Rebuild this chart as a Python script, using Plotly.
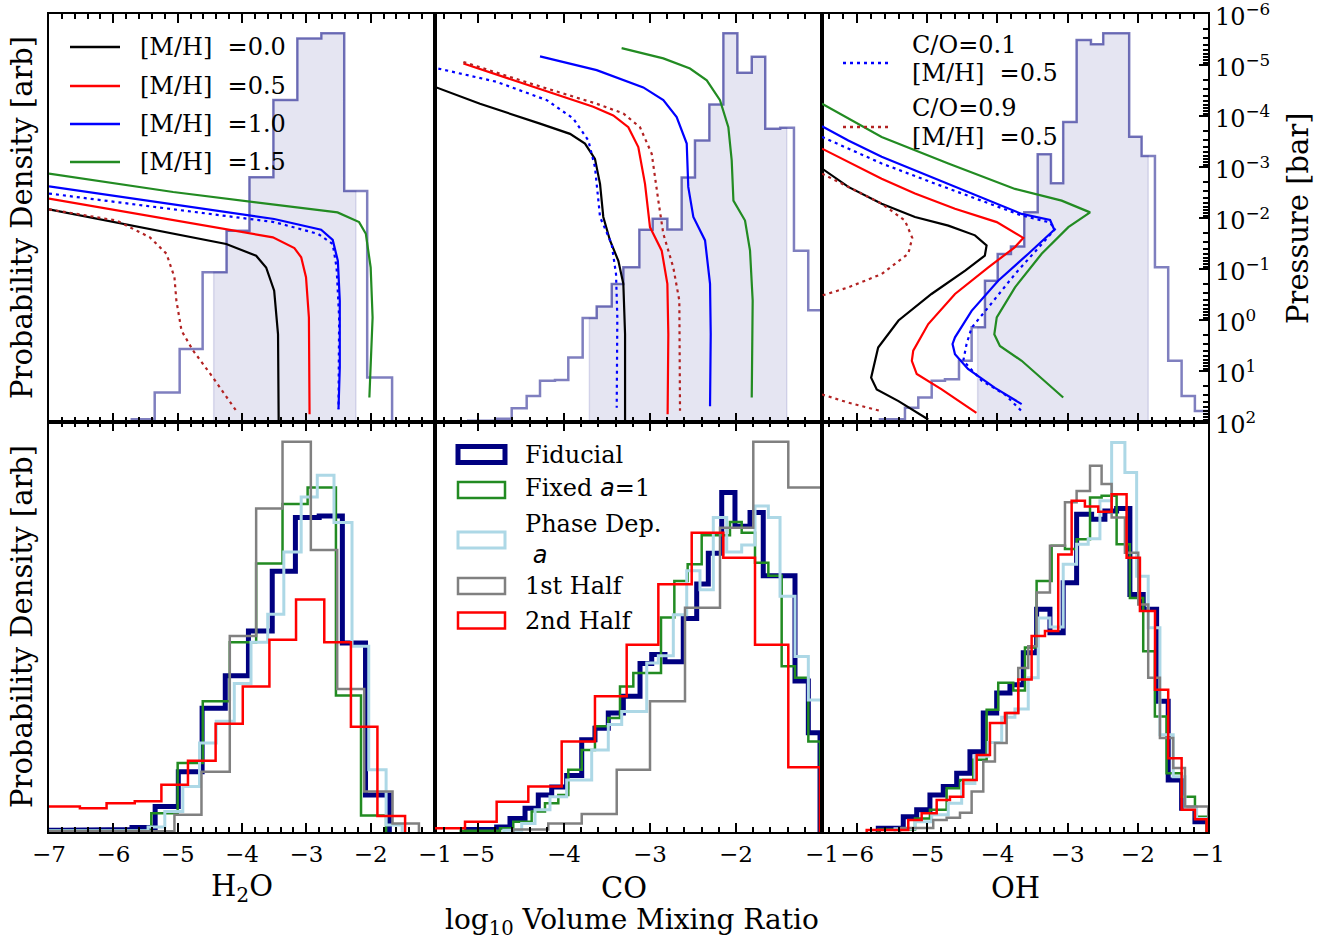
import plotly.graph_objects as go

FONT = "DejaVu Serif"
W, H = 1326, 941
ML, MR, MT, MB = 49, 118, 14, 109

# ---------------- axis data ----------------
SPECIES_LABELS = ["H<sub>2</sub>O", "CO", "OH"]
X_RANGES = [[-7, -1], [-5.5, -1], [-6.5, -1]]
X_TICKS = [[-7, -6, -5, -4, -3, -2, -1], [-5, -4, -3, -2, -1], [-6, -5, -4, -3, -2, -1]]
PRESSURE_EXP = [-6, -5, -4, -3, -2, -1, 0, 1, 2]

# ---------------- top row: retrieved posterior histograms ----------------
H2O_POST_EDGES = [-5.713, -5.357, -4.969, -4.612, -4.240, -3.884, -3.512, -3.140, -2.767, -2.411, -2.054, -1.667]
H2O_POST_H = [0.007, 0.072, 0.179, 0.367, 0.469, 0.600, 0.789, 0.940, 0.953, 0.566, 0.109]
H2O_POST_BOUNDS = [-4.44, -2.23]

CO_POST_EDGES = [-5.113, -4.783, -4.608, -4.434, -4.279, -4.105, -3.95, -3.783, -3.62, -3.445, -3.31, -3.124,
                 -2.969, -2.798, -2.632, -2.477, -2.31, -2.147, -1.984, -1.817, -1.66, -1.486, -1.326, -1.16, -0.83]
CO_POST_H = [0.003, 0.008, 0.034, 0.064, 0.101, 0.103, 0.158, 0.255, 0.283, 0.338, 0.379, 0.471, 0.498, 0.472,
             0.599, 0.690, 0.778, 0.953, 0.856, 0.895, 0.719, 0.721, 0.420, 0.274]
CO_POST_BOUNDS = [-3.705, -1.41]

OH_POST_EDGES = [-5.674, -5.318, -5.128, -4.937, -4.748, -4.548, -4.368, -4.178, -3.997, -3.808, -3.618, -3.427,
                 -3.238, -3.063, -2.872, -2.668, -2.493, -2.302, -2.123, -1.946, -1.756, -1.567, -1.376, -1.187, -0.81]
OH_POST_H = [0.007, 0.035, 0.060, 0.101, 0.105, 0.150, 0.232, 0.346, 0.412, 0.430, 0.514, 0.656, 0.585, 0.735,
             0.936, 0.926, 0.953, 0.953, 0.699, 0.652, 0.379, 0.150, 0.064, 0.027]
OH_POST_BOUNDS = [-4.282, -1.852]

# ---------------- top row: equilibrium chemistry profiles (log10 VMR, log10 P[bar]) ----------------
# H2O
H2O_MH00_X = [-7.0, -4.245, -3.78, -3.625, -3.50, -3.44, -3.43]
H2O_MH00_LP = [-2.17, -1.49, -1.26, -1.03, -0.575, 0.28, 1.98]
H2O_MH05_X = [-7.0, -3.52, -3.186, -3.08, -3.005, -2.96, -2.95]
H2O_MH05_LP = [-2.38, -1.62, -1.41, -1.23, -0.84, -0.05, 1.85]
H2O_MH10_X = [-7.0, -3.50, -2.77, -2.59, -2.51, -2.48, -2.48, -2.50]
H2O_MH10_LP = [-2.62, -1.98, -1.77, -1.57, -1.16, -0.38, 0.93, 1.75]
H2O_MH15_X = [-7.0, -5.07, -2.515, -2.18, -2.075, -2.00, -1.97, -2.02]
H2O_MH15_LP = [-2.87, -2.51, -2.11, -1.92, -1.69, -1.03, -0.05, 1.52]
H2O_CO01_X = [-7.0, -3.50, -2.82, -2.59, -2.53, -2.49, -2.50]
H2O_CO01_LP = [-2.48, -1.92, -1.69, -1.49, -1.03, -0.05, 1.75]
H2O_CO09_X = [-7.0, -5.95, -5.43, -5.175, -5.05, -5.02, -4.94, -4.76, -4.45, -4.09]
H2O_CO09_LP = [-2.17, -1.95, -1.62, -1.30, -0.84, -0.38, 0.21, 0.60, 1.13, 1.78]
# CO
CO_MH00_X = [-5.5, -4.977, -4.279, -3.93, -3.756, -3.64, -3.581, -3.543, -3.465, -3.368, -3.31, -3.29, -3.29]
CO_MH00_LP = [-4.57, -4.24, -3.85, -3.65, -3.46, -3.16, -2.67, -2.02, -1.56, -1.16, -0.71, 0.28, 1.98]
CO_MH05_X = [-5.17, -4.395, -3.66, -3.427, -3.252, -3.136, -3.058, -3.0, -2.864, -2.798, -2.787, -2.795]
CO_MH05_LP = [-5.03, -4.60, -4.18, -4.01, -3.78, -3.39, -2.67, -1.82, -1.36, -0.71, 0.28, 1.85]
CO_MH10_X = [-4.279, -3.62, -3.078, -2.845, -2.69, -2.573, -2.555, -2.496, -2.36, -2.302, -2.294, -2.302]
CO_MH10_LP = [-5.17, -4.90, -4.56, -4.31, -3.98, -3.46, -2.61, -2.02, -1.56, -0.71, 0.28, 1.69]
CO_MH15_X = [-3.33, -2.845, -2.535, -2.34, -2.186, -2.089, -2.05, -2.03, -1.895, -1.837, -1.806, -1.817]
CO_MH15_LP = [-5.33, -5.13, -4.93, -4.70, -4.31, -3.78, -3.13, -2.34, -1.95, -1.36, -0.38, 1.52]
CO_CO01_X = [-5.461, -4.783, -4.20, -3.892, -3.717, -3.64, -3.581, -3.446, -3.395, -3.38, -3.387]
CO_CO01_LP = [-4.93, -4.67, -4.31, -3.95, -3.52, -3.00, -2.02, -1.49, -0.90, -0.05, 1.72]
CO_CO09_X = [-5.17, -4.395, -3.62, -3.31, -3.116, -2.98, -2.903, -2.845, -2.729, -2.659, -2.651]
CO_CO09_LP = [-5.06, -4.64, -4.24, -4.05, -3.78, -3.26, -2.34, -1.69, -1.03, -0.38, 1.78]
# OH
OH_MH00_X = [-6.5, -6.125, -5.65, -5.175, -4.70, -4.32, -4.155, -4.18, -4.46, -4.94, -5.41, -5.70, -5.80, -5.72, -5.41, -4.986]
OH_MH00_LP = [-2.97, -2.61, -2.28, -2.02, -1.85, -1.66, -1.46, -1.26, -0.97, -0.51, 0.01, 0.54, 1.13, 1.36, 1.59, 1.95]
OH_MH05_X = [-6.5, -6.125, -5.65, -5.175, -4.605, -4.01, -3.798, -3.632, -3.75, -4.13, -4.605, -4.986, -5.20, -5.22, -5.15, -4.795, -4.30]
OH_MH05_LP = [-3.36, -3.10, -2.77, -2.48, -2.18, -1.92, -1.755, -1.61, -1.43, -1.03, -0.51, 0.08, 0.60, 0.80, 1.06, 1.36, 1.82]
OH_MH10_X = [-6.5, -6.125, -5.65, -4.94, -4.225, -3.655, -3.25, -3.19, -3.56, -3.99, -4.368, -4.605, -4.64, -4.605, -4.42, -4.036, -3.655]
OH_MH10_LP = [-3.80, -3.52, -3.20, -2.80, -2.41, -2.08, -1.96, -1.77, -1.30, -0.77, -0.18, 0.34, 0.47, 0.67, 0.96, 1.33, 1.65]
OH_MH15_X = [-6.5, -5.65, -4.70, -3.75, -3.085, -2.68, -2.99, -3.37, -3.75, -4.01, -4.045, -3.965, -3.655, -3.063]
OH_MH15_LP = [-4.24, -3.59, -3.07, -2.57, -2.34, -2.11, -1.82, -1.30, -0.64, -0.05, 0.28, 0.51, 0.80, 1.52]
OH_CO01_X = [-6.5, -6.125, -5.65, -4.94, -4.225, -3.655, -3.275, -3.17, -3.323, -3.75, -4.13, -4.368, -4.44, -4.487, -4.225, -3.893, -3.632]
OH_CO01_LP = [-3.59, -3.36, -3.07, -2.70, -2.34, -2.05, -1.92, -1.80, -1.56, -0.90, -0.25, 0.15, 0.47, 0.80, 1.19, 1.46, 1.82]
OH_CO09_X = [-6.5, -6.125, -5.65, -5.318, -5.214, -5.27, -5.65, -6.125, -6.5, None, -6.5, -6.125, -5.674]
OH_CO09_LP = [-2.87, -2.61, -2.28, -1.95, -1.61, -1.30, -0.90, -0.64, -0.48, None, 1.46, 1.62, 1.78]

PROFILE_LABELS = ["[M/H]\u00a0\u00a0=0.0", "[M/H]\u00a0\u00a0=0.5", "[M/H]\u00a0\u00a0=1.0", "[M/H]\u00a0\u00a0=1.5"]
PROFILE_COLORS = ["black", "#ff0000", "#0000ff", "#228b22"]
CO_LABELS = [["C/O=0.1", "[M/H]\u00a0\u00a0=0.5"], ["C/O=0.9", "[M/H]\u00a0\u00a0=0.5"]]
CO_COLORS = ["#0000ff", "#b22222"]

# ---------------- bottom row: posterior comparisons ----------------
ITALIC_A = "<span style=\"font-family:'DejaVu Sans'\"><i>a</i></span>"
RUN_LABELS = ["Fiducial", "Fixed " + ITALIC_A + "=1", "Phase Dep.<br>\u00a0" + ITALIC_A, "1st Half", "2nd Half"]
RUN_COLORS = ["#000080", "#228b22", "#add8e6", "#808080", "#ff0000"]
RUN_WIDTHS = [5, 2.5, 3, 2.5, 2.5]

# H2O
FID_H2O_EDGES = [-7.17, -6.80, -6.44, -6.08, -5.71, -5.35, -4.99, -4.62, -4.26, -3.90, -3.53, -3.17, -2.80, -2.44, -2.08, -1.71]
FID_H2O_H = [0.004, 0.004, 0.004, 0.006, 0.011, 0.062, 0.147, 0.302, 0.381, 0.490, 0.636, 0.767, 0.771, 0.461, 0.090]
FIX_H2O_EDGES = [-7.2, -5.41, -5.00, -4.61, -4.19, -3.78, -3.37, -2.98, -2.54, -2.15, -1.76]
FIX_H2O_H = [0.003, 0.046, 0.168, 0.319, 0.463, 0.655, 0.800, 0.840, 0.333, 0.040]
PHA_H2O_EDGES = [-7.2, -5.46, -5.20, -4.92, -4.66, -4.40, -4.12, -3.86, -3.60, -3.35, -3.08, -2.83, -2.57, -2.29, -2.03, -1.76, -1.51]
PHA_H2O_H = [0.003, 0.012, 0.050, 0.111, 0.217, 0.270, 0.362, 0.463, 0.531, 0.683, 0.817, 0.870, 0.755, 0.453, 0.152, 0.017]
FIRST_H2O_EDGES = [-7.2, -5.05, -4.63, -4.19, -3.78, -3.37, -2.93, -2.52, -2.10, -1.66, -1.25]
FIRST_H2O_H = [0.002, 0.042, 0.147, 0.478, 0.789, 0.952, 0.688, 0.349, 0.099, 0.021]
SECOND_H2O_EDGES = [-7.35, -6.52, -6.105, -5.667, -5.253, -4.84, -4.41, -3.988, -3.574, -3.16, -2.721, -2.307, -1.895, -1.465]
SECOND_H2O_H = [0.062, 0.058, 0.070, 0.075, 0.115, 0.174, 0.264, 0.355, 0.469, 0.567, 0.463, 0.257, 0.039]
# CO
FID_CO_EDGES = [-5.131, -4.783, -4.628, -4.453, -4.299, -4.143, -3.969, -3.794, -3.640, -3.485, -3.310, -3.116, -2.980,
                -2.826, -2.613, -2.457, -2.322, -2.166, -2.012, -1.837, -1.683, -1.508, -1.314, -1.159, -1.023]
FID_CO_H = [0.006, 0.012, 0.033, 0.058, 0.090, 0.110, 0.138, 0.225, 0.253, 0.290, 0.331, 0.411, 0.433, 0.415, 0.521,
            0.605, 0.680, 0.828, 0.746, 0.779, 0.625, 0.625, 0.368, 0.242]
FIX_CO_EDGES = [-5.2, -4.744, -4.590, -4.376, -4.221, -4.066, -3.950, -3.794, -3.640, -3.485, -3.349, -3.194, -2.872,
                -2.717, -2.562, -2.399, -2.070, -1.934, -1.779, -1.624, -1.469, -1.314, -1.159, -1.023]
FIX_CO_H = [0.003, 0.009, 0.025, 0.050, 0.070, 0.090, 0.152, 0.200, 0.258, 0.278, 0.355, 0.388, 0.523, 0.612, 0.653,
            0.724, 0.756, 0.730, 0.657, 0.625, 0.404, 0.376, 0.221]
PHA_CO_EDGES = [-4.70, -4.492, -4.337, -4.163, -3.969, -3.678, -3.485, -3.329, -3.038, -2.903, -2.729, -2.573, -2.419,
                -2.264, -2.108, -1.934, -1.779, -1.624, -1.488, -1.314, -1.159, -0.849]
PHA_CO_H = [0.004, 0.021, 0.054, 0.086, 0.127, 0.200, 0.262, 0.294, 0.412, 0.430, 0.530, 0.637, 0.591, 0.767, 0.683,
            0.700, 0.795, 0.767, 0.575, 0.428, 0.322]
FIRST_CO_EDGES = [-4.590, -4.183, -3.794, -3.387, -3.0, -2.593, -2.186, -1.799, -1.392, -0.985]
FIRST_CO_H = [0.006, 0.021, 0.044, 0.152, 0.319, 0.547, 0.742, 0.952, 0.840]
SECOND_CO_EDGES = [-5.55, -5.151, -4.783, -4.415, -4.027, -3.640, -3.271, -2.903, -2.515, -2.148, -1.779, -1.392, -1.023]
SECOND_CO_H = [0.009, 0.025, 0.074, 0.111, 0.221, 0.331, 0.457, 0.604, 0.730, 0.669, 0.457, 0.158]
# OH
FID_OH_EDGES = [-5.698, -5.342, -5.151, -4.962, -4.772, -4.581, -4.392, -4.202, -4.011, -3.822, -3.632, -3.442, -3.252,
                -3.063, -2.872, -2.658, -2.469, -2.302, -2.113, -1.923, -1.732, -1.567, -1.376, -1.186, -0.997]
FID_OH_H = [0.009, 0.037, 0.054, 0.090, 0.111, 0.143, 0.196, 0.290, 0.339, 0.359, 0.437, 0.543, 0.486, 0.608, 0.775,
            0.763, 0.783, 0.789, 0.579, 0.543, 0.319, 0.127, 0.058, 0.025]
FIX_OH_EDGES = [-5.698, -5.175, -4.962, -4.724, -4.534, -4.345, -4.154, -3.989, -3.775, -3.608, -3.442, -3.228, -3.038,
                -2.872, -2.681, -2.516, -2.302, -2.113, -1.923, -1.757, -1.590, -1.376, -1.186, -1.020]
FIX_OH_H = [0.006, 0.033, 0.054, 0.107, 0.127, 0.176, 0.298, 0.364, 0.345, 0.450, 0.612, 0.698, 0.690, 0.714, 0.816,
            0.820, 0.702, 0.571, 0.441, 0.282, 0.143, 0.086, 0.037]
PHA_OH_EDGES = [-5.46, -5.175, -4.937, -4.701, -4.510, -4.321, -4.131, -3.940, -3.751, -3.561, -3.419, -3.252, -3.063,
                -2.872, -2.707, -2.540, -2.373, -2.184, -2.017, -1.852, -1.685, -1.496, -1.328, -1.162, -0.997]
PHA_OH_H = [0.008, 0.025, 0.042, 0.070, 0.118, 0.185, 0.218, 0.280, 0.300, 0.376, 0.522, 0.500, 0.653, 0.702, 0.715,
            0.808, 0.950, 0.877, 0.624, 0.498, 0.237, 0.135, 0.057, 0.033]
FIRST_OH_EDGES = [-5.389, -4.915, -4.724, -4.534, -4.368, -4.202, -4.036, -3.869, -3.704, -3.561, -3.442, -3.252, -3.038,
                  -2.872, -2.681, -2.516, -2.373, -2.184, -1.994, -1.852, -1.685, -1.496, -1.328, -1.162, -0.997]
FIRST_OH_H = [0.010, 0.029, 0.035, 0.047, 0.099, 0.172, 0.217, 0.290, 0.400, 0.453, 0.584, 0.698, 0.804, 0.832, 0.893,
              0.849, 0.767, 0.681, 0.555, 0.376, 0.229, 0.156, 0.062, 0.062]
SECOND_OH_EDGES = [-5.863, -5.271, -5.080, -4.866, -4.677, -4.487, -4.296, -4.107, -3.893, -3.704, -3.513, -3.323,
                   -3.134, -2.943, -2.754, -2.564, -2.373, -2.160, -1.970, -1.755, -1.567, -1.376, -1.186, -1.020]
SECOND_OH_H = [0.005, 0.029, 0.046, 0.078, 0.086, 0.127, 0.188, 0.266, 0.290, 0.372, 0.478, 0.490, 0.677, 0.808, 0.794,
               0.781, 0.824, 0.669, 0.539, 0.347, 0.180, 0.054, 0.031]


# ---------------- helpers ----------------
def step_outline(edges, heights):
    xs, ys = [edges[0]], [0.0]
    for i, h in enumerate(heights):
        xs += [edges[i], edges[i + 1]]
        ys += [h, h]
    xs.append(edges[-1])
    ys.append(0.0)
    return xs, ys


def step_fill(edges, heights, lo, hi):
    xs, ys = [lo], [0.0]
    for i, h in enumerate(heights):
        a, b = max(edges[i], lo), min(edges[i + 1], hi)
        if a < b:
            xs += [a, b]
            ys += [h, h]
    xs += [hi, lo]
    ys += [0.0, 0.0]
    return xs, ys


def to_pressure(lp):
    return [None if v is None else 10 ** v for v in lp]


# page-pixel -> paper fraction
def pxx(px):
    return (px - ML) / (W - ML - MR)


def pxy(py):
    return (H - MB - py) / (H - MT - MB)


POSTERIORS = [
    (H2O_POST_EDGES, H2O_POST_H, H2O_POST_BOUNDS),
    (CO_POST_EDGES, CO_POST_H, CO_POST_BOUNDS),
    (OH_POST_EDGES, OH_POST_H, OH_POST_BOUNDS),
]
PROFILES = [
    [(H2O_MH00_X, H2O_MH00_LP), (H2O_MH05_X, H2O_MH05_LP), (H2O_MH10_X, H2O_MH10_LP), (H2O_MH15_X, H2O_MH15_LP),
     (H2O_CO01_X, H2O_CO01_LP), (H2O_CO09_X, H2O_CO09_LP)],
    [(CO_MH00_X, CO_MH00_LP), (CO_MH05_X, CO_MH05_LP), (CO_MH10_X, CO_MH10_LP), (CO_MH15_X, CO_MH15_LP),
     (CO_CO01_X, CO_CO01_LP), (CO_CO09_X, CO_CO09_LP)],
    [(OH_MH00_X, OH_MH00_LP), (OH_MH05_X, OH_MH05_LP), (OH_MH10_X, OH_MH10_LP), (OH_MH15_X, OH_MH15_LP),
     (OH_CO01_X, OH_CO01_LP), (OH_CO09_X, OH_CO09_LP)],
]
RUNS = [
    [(FID_H2O_EDGES, FID_H2O_H), (FIX_H2O_EDGES, FIX_H2O_H), (PHA_H2O_EDGES, PHA_H2O_H),
     (FIRST_H2O_EDGES, FIRST_H2O_H), (SECOND_H2O_EDGES, SECOND_H2O_H)],
    [(FID_CO_EDGES, FID_CO_H), (FIX_CO_EDGES, FIX_CO_H), (PHA_CO_EDGES, PHA_CO_H),
     (FIRST_CO_EDGES, FIRST_CO_H), (SECOND_CO_EDGES, SECOND_CO_H)],
    [(FID_OH_EDGES, FID_OH_H), (FIX_OH_EDGES, FIX_OH_H), (PHA_OH_EDGES, PHA_OH_H),
     (FIRST_OH_EDGES, FIRST_OH_H), (SECOND_OH_EDGES, SECOND_OH_H)],
]
LINE_STYLES = [(c, "solid") for c in PROFILE_COLORS] + [(c, "3px,4px") for c in CO_COLORS]

fig = go.Figure()

COL_DOM = [[0.0, pxx(435)], [pxx(435), pxx(822)], [pxx(822), 1.0]]
TOP_DOM = [pxy(422), 1.0]
BOT_DOM = [0.0, pxy(422)]


def sfx(n):
    return "" if n == 1 else str(n)


layout_axes = {}
for i in range(3):
    xt, yh, yp = i + 1, 2 * i + 1, 2 * i + 2
    xb, yb = i + 4, i + 7
    # --- top row traces
    edges, hts, bounds = POSTERIORS[i]
    fx, fy = step_fill(edges, hts, bounds[0], bounds[1])
    fig.add_trace(go.Scatter(x=fx, y=fy, mode="lines", fill="toself", fillcolor="rgba(0,0,128,0.1)",
                             line=dict(color="rgba(0,0,128,0.12)", width=1.5), hoverinfo="skip",
                             xaxis="x" + sfx(xt), yaxis="y" + sfx(yh), showlegend=False))
    ox, oy = step_outline(edges, hts)
    fig.add_trace(go.Scatter(x=ox, y=oy, mode="lines", line=dict(color="rgba(0,0,128,0.5)", width=2.5),
                             xaxis="x" + sfx(xt), yaxis="y" + sfx(yh), showlegend=False))
    for (px_, plp), (col, dash) in zip(PROFILES[i], LINE_STYLES):
        fig.add_trace(go.Scatter(x=px_, y=to_pressure(plp), mode="lines",
                                 line=dict(color=col, width=2.2, dash=dash),
                                 xaxis="x" + sfx(xt), yaxis="y" + sfx(yp), showlegend=False))
    # --- bottom row traces
    for (e, h), col, lw in zip(RUNS[i], RUN_COLORS, RUN_WIDTHS):
        sx, sy = step_outline(e, h)
        fig.add_trace(go.Scatter(x=sx, y=sy, mode="lines", line=dict(color=col, width=lw),
                                 xaxis="x" + sfx(xb), yaxis="y" + sfx(yb), showlegend=False))

    tickfont = dict(family=FONT, size=23, color="black")
    xcommon = dict(range=X_RANGES[i], tickmode="array", tickvals=X_TICKS[i], showline=True, linecolor="black",
                   linewidth=2, mirror="ticks", ticks="inside", ticklen=9, tickwidth=2, tickcolor="black",
                   showgrid=False, zeroline=False, tickfont=tickfont, ticklabeloverflow="allow",
                   minor=dict(ticks="inside", ticklen=5, tickwidth=1.5, tickcolor="black", dtick=0.2, tick0=0,
                              showgrid=False))
    layout_axes["xaxis" + sfx(xt)] = dict(xcommon, domain=COL_DOM[i], anchor="y" + sfx(yh), showticklabels=False)
    layout_axes["xaxis" + sfx(xb)] = dict(xcommon, domain=COL_DOM[i], anchor="y" + sfx(yb), showticklabels=True)
    ycommon = dict(range=[0, 1], showline=True, linecolor="black", linewidth=2, mirror=True, ticks="",
                   showticklabels=False, showgrid=False, zeroline=False)
    layout_axes["yaxis" + sfx(yh)] = dict(ycommon, domain=TOP_DOM, anchor="x" + sfx(xt))
    layout_axes["yaxis" + sfx(yb)] = dict(ycommon, domain=BOT_DOM, anchor="x" + sfx(xb))
    pres = dict(type="log", range=[PRESSURE_EXP[-1], PRESSURE_EXP[0]], overlaying="y" + sfx(yh),
                anchor="x" + sfx(xt), side="right", showgrid=False, zeroline=False, showline=False)
    if i == 2:
        pres.update(ticks="inside", ticklen=9, tickwidth=2, tickcolor="black", tickmode="array",
                    tickvals=[10 ** e for e in PRESSURE_EXP],
                    ticktext=["10<sup>" + str(e).replace("-", "\u2212") + "</sup>" for e in PRESSURE_EXP],
                    tickfont=dict(family=FONT, size=24, color="black"), showticklabels=True,
                    ticklabeloverflow="allow", ticklabelstandoff=6, ticklabelshift=-3,
                    minor=dict(ticks="inside", ticklen=5, tickwidth=1.5, tickcolor="black", dtick="D1",
                               showgrid=False))
    else:
        pres.update(ticks="", showticklabels=False)
    layout_axes["yaxis" + sfx(yp)] = pres

annotations = []
shapes = []
TF = dict(family=FONT, size=29, color="black")
LF = dict(family=FONT, size=24, color="black")
# axis titles
for yc in (218, 627):
    annotations.append(dict(text="Probability Density [arb]", x=pxx(22), y=pxy(yc), xref="paper", yref="paper",
                            textangle=-90, showarrow=False, font=TF, xanchor="center", yanchor="middle"))
annotations.append(dict(text="Pressure [bar]", x=pxx(1298), y=pxy(218), xref="paper", yref="paper",
                        textangle=-90, showarrow=False, font=TF, xanchor="center", yanchor="middle"))
for lab, xc in zip(SPECIES_LABELS, (242, 624, 1015)):
    annotations.append(dict(text=lab, x=pxx(xc), y=pxy(888), xref="paper", yref="paper", showarrow=False,
                            font=TF, xanchor="center", yanchor="middle"))
annotations.append(dict(text="log<sub>10</sub> Volume Mixing Ratio", x=pxx(632), y=pxy(921), xref="paper",
                        yref="paper", showarrow=False, font=dict(family=FONT, size=28, color="black"),
                        xanchor="center", yanchor="middle"))

# top-left legend ([M/H])
for k, (lab, col) in enumerate(zip(PROFILE_LABELS, PROFILE_COLORS)):
    yy = [47, 86, 124, 162][k]
    shapes.append(dict(type="line", xref="paper", yref="paper", x0=pxx(70), x1=pxx(120), y0=pxy(yy), y1=pxy(yy),
                       line=dict(color=col, width=2.5)))
    annotations.append(dict(text=lab, x=pxx(138), y=pxy(yy), xref="paper", yref="paper", showarrow=False,
                            font=LF, xanchor="left", yanchor="middle"))
# top-right legend (C/O)
for k, (labs, col) in enumerate(zip(CO_LABELS, CO_COLORS)):
    yl = [63, 127][k]
    ys = [[45, 73], [108, 137]][k]
    shapes.append(dict(type="line", xref="paper", yref="paper", x0=pxx(843), x1=pxx(891), y0=pxy(yl), y1=pxy(yl),
                       line=dict(color=col, width=2.5, dash="3px,4px")))
    for lab, yy in zip(labs, ys):
        annotations.append(dict(text=lab, x=pxx(910), y=pxy(yy), xref="paper", yref="paper", showarrow=False,
                                font=LF, xanchor="left", yanchor="middle"))
# bottom legend (runs)
for k, (lab, col, lw) in enumerate(zip(RUN_LABELS, RUN_COLORS, RUN_WIDTHS)):
    yc = [454.5, 490, 540, 586, 620.5][k]
    shapes.append(dict(type="rect", xref="paper", yref="paper", x0=pxx(458), x1=pxx(505), y0=pxy(yc + 8),
                       y1=pxy(yc - 8), line=dict(color=col, width=lw), fillcolor="rgba(0,0,0,0)"))
    ty = [455, 488, 539, 586, 621][k]
    annotations.append(dict(text=lab, x=pxx(523), y=pxy(ty), xref="paper", yref="paper", showarrow=False,
                            font=LF, xanchor="left", yanchor="middle", align="left"))

fig.update_layout(width=W, height=H, margin=dict(l=ML, r=MR, t=MT, b=MB, autoexpand=False),
                  plot_bgcolor="white", paper_bgcolor="white", showlegend=False,
                  font=dict(family=FONT, color="black"), annotations=annotations, shapes=shapes, **layout_axes)

fig.write_html("out.html", config={"displayModeBar": False},
               post_script="document.body.style.margin='0px';")
